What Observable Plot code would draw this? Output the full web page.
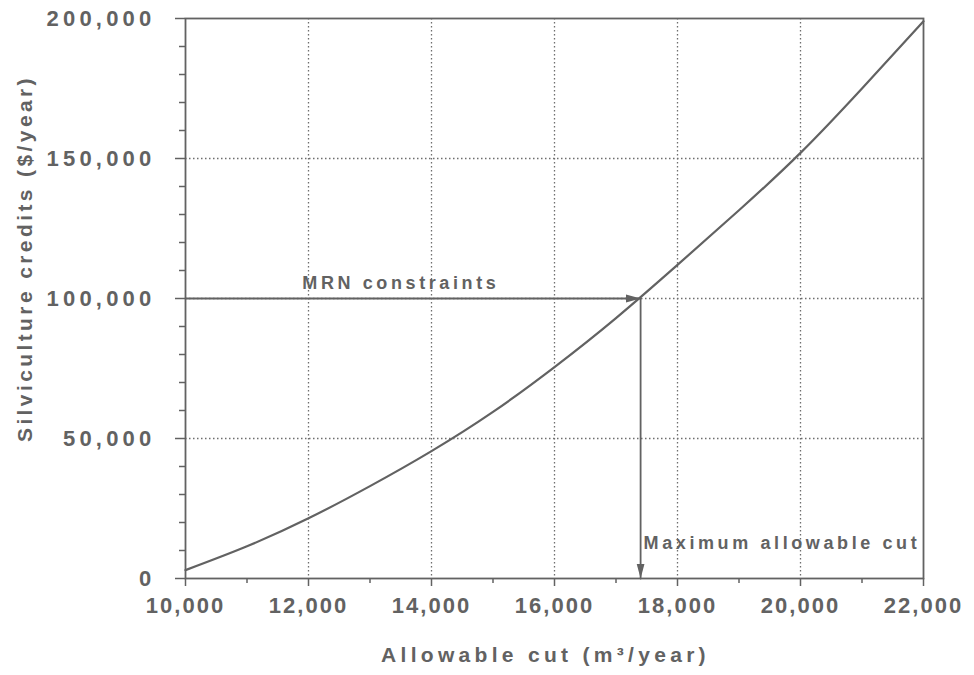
<!DOCTYPE html>
<html><head><meta charset="utf-8">
<script src="https://cdn.jsdelivr.net/npm/d3@7"></script>
<script src="https://cdn.jsdelivr.net/npm/@observablehq/plot@0.6"></script>
<style>
body{margin:0;background:#fff;}
#chart svg{display:block;}
.xt text{letter-spacing:2px;font-size:22px;font-weight:bold;}
.yt text{letter-spacing:4.2px;font-size:22px;font-weight:bold;}
.ann text{letter-spacing:3.6px;font-size:18px;font-weight:bold;}
.lab text{letter-spacing:4.3px;font-size:21px;font-weight:bold;}
.laby text{letter-spacing:3.4px;font-size:21px;font-weight:bold;}
</style></head><body><div id="chart"></div>
<script>
// Data
const cutValues    = [10000, 11000, 12000, 13000, 14000, 15000, 16000, 17000, 18000, 19000, 20000, 21000, 22000];
const creditValues = [3000, 11500, 21500, 33000, 45500, 59500, 75500, 93000, 112000, 131500, 152000, 175000, 199000];

const xMajorTicks = [10000, 12000, 14000, 16000, 18000, 20000, 22000];
const xMinorTicks = [11000, 13000, 15000, 17000, 19000, 21000];
const yMajorTicks = [0, 50000, 100000, 150000, 200000];
const yMinorTicks = [10000, 20000, 30000, 40000, 60000, 70000, 80000, 90000, 110000, 120000, 130000, 140000, 160000, 170000, 180000, 190000];
const xGridValues = [12000, 14000, 16000, 18000, 20000];
const yGridValues = [50000, 100000, 150000];

const constraintCredit = 100000;   // MRN constraint level
const maxAllowableCut  = 17400;    // resulting maximum allowable cut
const xStart = 10000;
const yStart = 0;

const xTitle = "Allowable cut (m³/year)";
const yTitle = "Silviculture credits ($/year)";
const constraintLabel = "MRN constraints";
const maxCutLabel = "Maximum allowable cut";
const constraintLabelX = 11900, constraintLabelY = 103500;
const maxCutLabelY = 10700;

const curve = cutValues.map((x, i) => ({x, y: creditValues[i]}));
const hArrow = [{x: xStart, y: constraintCredit}, {x: maxAllowableCut, y: constraintCredit}];
const vArrow = [{x: maxAllowableCut, y: constraintCredit}, {x: maxAllowableCut, y: yStart}];

const ink = "#626262";
const font = "Liberation Sans, Arial, sans-serif";
const fmt = d3.format(",");

const chart = Plot.plot({
  width: 974,
  height: 675,
  marginLeft: 185,
  marginRight: 51,
  marginTop: 18,
  marginBottom: 97,
  style: {fontFamily: font, color: ink, background: "#fff"},
  x: {domain: [10000, 22000]},
  y: {domain: [0, 200000]},
  marks: [
    Plot.ruleX(xGridValues, {stroke: "#6e6e6e", strokeWidth: 1.3, strokeDasharray: "1.5,2.5"}),
    Plot.ruleY(yGridValues, {stroke: "#6e6e6e", strokeWidth: 1.3, strokeDasharray: "1.5,2.5"}),
    Plot.axisX(xMajorTicks, {tickSize: 8, tickPadding: 11, tickFormat: fmt, strokeWidth: 1.5, label: null, className: "xt"}),
    Plot.axisX(xMinorTicks, {tickSize: 5, tickFormat: () => "", strokeWidth: 1.5, label: null}),
    Plot.axisY(yMajorTicks, {tickSize: 10, tickPadding: 20, tickFormat: fmt, strokeWidth: 1.5, label: null, className: "yt"}),
    Plot.axisY(yMinorTicks, {tickSize: 6, tickFormat: () => "", strokeWidth: 1.5, label: null}),
    Plot.frame({stroke: ink, strokeWidth: 1.8}),
    Plot.line(curve, {x: "x", y: "y", curve: "natural", stroke: ink, strokeWidth: 2.2}),
    Plot.line(hArrow, {x: "x", y: "y", stroke: ink, strokeWidth: 1.8, className: "arr"}),
    Plot.line(vArrow, {x: "x", y: "y", stroke: ink, strokeWidth: 1.8, className: "arr"}),
    Plot.text([constraintLabel], {x: () => constraintLabelX, y: () => constraintLabelY, text: d => d, textAnchor: "start", lineAnchor: "bottom", fill: ink, className: "ann"}),
    Plot.text([maxCutLabel], {x: () => maxAllowableCut, y: () => maxCutLabelY, text: d => d, dx: 3, textAnchor: "start", lineAnchor: "bottom", fill: ink, className: "ann"}),
    Plot.text([xTitle], {frameAnchor: "bottom", text: d => d, dx: -9, dy: 77, lineAnchor: "middle", fill: ink, className: "lab"}),
    Plot.text([yTitle], {frameAnchor: "top-left", text: d => d, rotate: -90, dx: -160, dy: 240, lineAnchor: "middle", textAnchor: "middle", fill: ink, className: "laby"})
  ]
});

// filled arrowheads on the two constraint lines
const svg = d3.select(chart);
svg.insert("defs", ":first-child").append("marker")
  .attr("id", "ah").attr("markerUnits", "userSpaceOnUse")
  .attr("viewBox", "0 -5 16 10").attr("markerWidth", 16).attr("markerHeight", 10)
  .attr("refX", 15).attr("refY", 0).attr("orient", "auto")
  .append("path").attr("d", "M0,-4L15,0L0,4Z").attr("fill", ink);
svg.selectAll(".arr path").attr("marker-end", "url(#ah)");

document.getElementById("chart").appendChild(chart);
</script></body></html>
